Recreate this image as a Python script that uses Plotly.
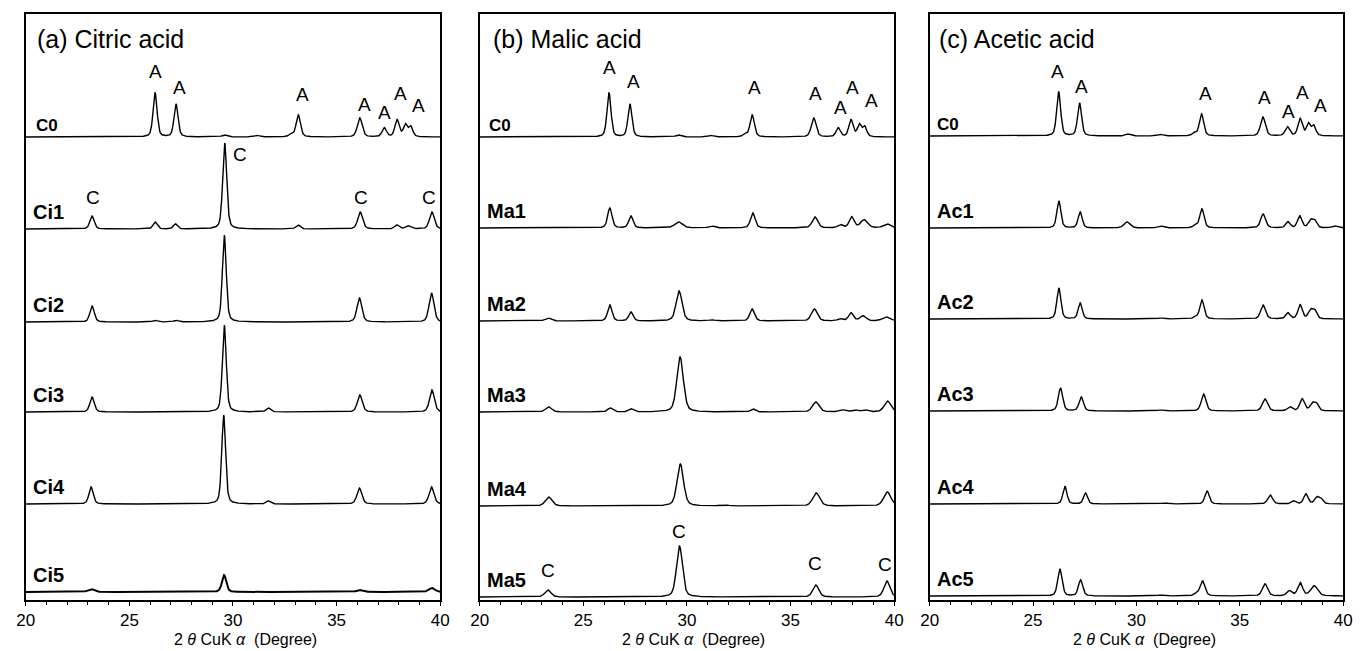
import numpy as np
import plotly.graph_objects as go

# ---------------- data ----------------
# 2-theta grid (degrees)
two_theta = np.linspace(20, 40, 1201)

# Peak lists: position (deg), height (a.u.), FWHM (deg)
C0_pos = [26.24, 27.25, 29.6, 31.15, 32.8, 33.15, 36.12, 37.3, 37.92, 38.32, 38.58]
C0_h   = [44, 33, 2, 1.5, 3, 22, 19, 9, 17, 12, 10]
C0_w   = [0.23, 0.23, 0.3, 0.3, 0.22, 0.25, 0.28, 0.25, 0.25, 0.23, 0.23]

Ci1_pos = [23.2, 26.24, 27.22, 29.6, 33.14, 36.14, 37.9, 38.45, 39.6]
Ci1_h   = [13, 7, 5, 86, 4, 17, 4, 3, 17]
Ci1_w   = [0.25, 0.23, 0.23, 0.23, 0.25, 0.28, 0.25, 0.3, 0.28]
Ci2_pos = [23.2, 26.24, 27.25, 29.58, 36.1, 39.58]
Ci2_h   = [16, 1.5, 1.5, 87, 24, 29]
Ci2_w   = [0.25, 0.28, 0.28, 0.22, 0.28, 0.28]
Ci3_pos = [23.2, 29.58, 31.7, 36.12, 39.6]
Ci3_h   = [15, 87, 4, 17, 22]
Ci3_w   = [0.25, 0.22, 0.25, 0.28, 0.28]
Ci4_pos = [23.15, 29.55, 31.7, 36.1, 39.58]
Ci4_h   = [17, 89, 3, 16, 17]
Ci4_w   = [0.25, 0.22, 0.25, 0.28, 0.28]
Ci5_pos = [23.15, 29.57, 36.1, 39.6]
Ci5_h   = [3, 17, 2, 4]
Ci5_w   = [0.35, 0.25, 0.35, 0.35]

Ma1_pos = [26.28, 27.3, 29.6, 31.2, 33.18, 36.18, 37.4, 37.95, 38.55, 39.65]
Ma1_h   = [20, 12, 6, 2, 15, 11, 3, 11, 8, 4]
Ma1_w   = [0.25, 0.25, 0.45, 0.35, 0.27, 0.32, 0.28, 0.28, 0.4, 0.4]
Ma2_pos = [23.3, 26.28, 27.3, 29.62, 31.2, 33.15, 36.15, 37.4, 37.92, 38.5, 39.62]
Ma2_h   = [3, 16, 9, 30, 1, 12, 12, 2, 8, 5, 4]
Ma2_w   = [0.35, 0.25, 0.25, 0.34, 0.35, 0.27, 0.34, 0.28, 0.28, 0.35, 0.45]
Ma3_pos = [23.33, 26.3, 27.3, 29.67, 33.18, 36.22, 37.5, 38.1, 38.6, 39.68]
Ma3_h   = [5, 4, 3, 55, 3, 10, 2, 2, 2, 11]
Ma3_w   = [0.35, 0.28, 0.28, 0.37, 0.28, 0.38, 0.35, 0.35, 0.35, 0.38]
Ma4_pos = [23.33, 29.68, 31.8, 36.24, 39.67]
Ma4_h   = [9, 42, 1, 13, 14]
Ma4_w   = [0.38, 0.37, 0.45, 0.4, 0.42]
Ma5_pos = [23.29, 29.64, 36.22, 39.65]
Ma5_h   = [7, 51, 12, 16]
Ma5_w   = [0.35, 0.34, 0.34, 0.34]

Ac1_pos = [26.25, 27.28, 29.55, 31.17, 32.85, 33.17, 36.13, 37.33, 37.9, 38.42, 38.62, 39.6]
Ac1_h   = [27, 16, 6, 2, 3, 19, 14, 6, 12, 7, 7, 2]
Ac1_w   = [0.23, 0.23, 0.35, 0.35, 0.22, 0.25, 0.28, 0.25, 0.25, 0.25, 0.25, 0.35]
Ac2_pos = [26.25, 27.28, 31.2, 32.85, 33.17, 36.13, 37.33, 37.92, 38.42, 38.62]
Ac2_h   = [31, 16, 1, 2, 19, 14, 6, 14, 8, 8]
Ac2_w   = [0.23, 0.23, 0.35, 0.22, 0.25, 0.28, 0.25, 0.25, 0.25, 0.25]
Ac3_pos = [26.33, 27.33, 31.2, 33.25, 36.22, 37.42, 38.02, 38.5, 38.7]
Ac3_h   = [23, 14, 1, 17, 12, 4, 12, 7, 7]
Ac3_w   = [0.25, 0.25, 0.35, 0.27, 0.3, 0.27, 0.27, 0.25, 0.25]
Ac4_pos = [26.54, 27.54, 31.4, 33.42, 36.47, 37.6, 38.2, 38.72, 38.92]
Ac4_h   = [18, 11, 1, 13, 9, 3, 10, 6, 5]
Ac4_w   = [0.23, 0.23, 0.35, 0.25, 0.28, 0.25, 0.25, 0.25, 0.25]
Ac5_pos = [26.3, 27.3, 31.2, 32.9, 33.2, 36.22, 37.4, 37.92, 38.6]
Ac5_h   = [27, 16, 1, 2, 15, 12, 5, 13, 10]
Ac5_w   = [0.25, 0.25, 0.35, 0.28, 0.28, 0.3, 0.28, 0.28, 0.4]

# sample names and vertical offsets for each panel
citric_names = ["C0", "Ci1", "Ci2", "Ci3", "Ci4", "Ci5"]
citric_offsets = [463, 371, 278, 188, 96, 8]
malic_names = ["C0", "Ma1", "Ma2", "Ma3", "Ma4", "Ma5"]
malic_offsets = [463, 372, 279, 188, 94, 3]
acetic_names = ["C0", "Ac1", "Ac2", "Ac3", "Ac4", "Ac5"]
acetic_offsets = [464, 372, 281, 189, 96, 4]

panel_titles = ["(a) Citric acid", "(b) Malic acid", "(c) Acetic acid"]
tick_values = [20, 25, 30, 35, 40]
x_title = "2 <i>θ</i> CuK <i>α</i>  (Degree)"

# peak phase labels: (text, 2theta, height)
citric_marks_txt = ["A", "A", "A", "A", "A", "A", "A", "C", "C", "C", "C"]
citric_marks_x = [26.24, 27.43, 33.33, 36.33, 37.33, 38.1, 38.95, 23.24, 30.33, 36.19, 39.48]
citric_marks_y = [528, 512, 505, 495, 487, 506, 494, 403, 446, 403, 403]
malic_marks_txt = ["A", "A", "A", "A", "A", "A", "A", "C", "C", "C", "C"]
malic_marks_x = [26.24, 27.43, 33.24, 36.19, 37.43, 38.0, 38.9, 23.29, 29.62, 36.19, 39.57]
malic_marks_y = [532, 518, 512, 506, 492, 512, 499, 30, 69, 37, 36]
acetic_marks_txt = ["A", "A", "A", "A", "A", "A", "A"]
acetic_marks_x = [26.2, 27.35, 33.32, 36.18, 37.37, 38.04, 38.9]
acetic_marks_y = [528, 513, 506, 502, 488, 507, 494]

peaks = {
    "C0": (C0_pos, C0_h, C0_w),
    "Ci1": (Ci1_pos, Ci1_h, Ci1_w), "Ci2": (Ci2_pos, Ci2_h, Ci2_w),
    "Ci3": (Ci3_pos, Ci3_h, Ci3_w), "Ci4": (Ci4_pos, Ci4_h, Ci4_w),
    "Ci5": (Ci5_pos, Ci5_h, Ci5_w),
    "Ma1": (Ma1_pos, Ma1_h, Ma1_w), "Ma2": (Ma2_pos, Ma2_h, Ma2_w),
    "Ma3": (Ma3_pos, Ma3_h, Ma3_w), "Ma4": (Ma4_pos, Ma4_h, Ma4_w),
    "Ma5": (Ma5_pos, Ma5_h, Ma5_w),
    "Ac1": (Ac1_pos, Ac1_h, Ac1_w), "Ac2": (Ac2_pos, Ac2_h, Ac2_w),
    "Ac3": (Ac3_pos, Ac3_h, Ac3_w), "Ac4": (Ac4_pos, Ac4_h, Ac4_w),
    "Ac5": (Ac5_pos, Ac5_h, Ac5_w),
}


def pattern(name):
    pos, h, w = peaks[name]
    y = np.zeros_like(two_theta)
    eta = 0.4
    for p, hh, ww in zip(pos, h, w):
        d = (two_theta - p) / ww
        g = np.exp(-4 * np.log(2) * d * d)
        l = 1.0 / (1.0 + 4 * d * d)
        y += hh * (eta * l + (1 - eta) * g)
    return y


# ---------------- figure ----------------
W, H = 1362, 651
fig = go.Figure()

x_domains = [[17 / W, 437 / W], [477 / W, 897 / W], [933 / W, 1352 / W]]
y_domain = [51 / H, 637 / H]
panels = [
    (citric_names, citric_offsets, citric_marks_txt, citric_marks_x, citric_marks_y),
    (malic_names, malic_offsets, malic_marks_txt, malic_marks_x, malic_marks_y),
    (acetic_names, acetic_offsets, acetic_marks_txt, acetic_marks_x, acetic_marks_y),
]
title_x = [20.45, 20.55, 20.36]
label_x0 = [20.38, 20.33, 20.24]
label_x = [20.24, 20.24, 20.24]
xtitle_center_px = [240, 694, 1151]

annotations = []
for i, (names, offs, mt, mx, my) in enumerate(panels):
    xa = "x" if i == 0 else f"x{i+1}"
    ya = "y" if i == 0 else f"y{i+1}"
    for n, off in zip(names, offs):
        fig.add_trace(go.Scatter(
            x=two_theta, y=pattern(n) + off, mode="lines",
            line=dict(color="black", width=2.0 if n == "Ci5" else 1.4),
            xaxis=xa, yaxis=ya, showlegend=False, hoverinfo="skip"))
        is_c0 = n == "C0"
        annotations.append(dict(
            x=label_x0[i] if is_c0 else label_x[i], y=off + (11 if is_c0 else 17),
            xref=xa, yref=ya, text=f"<b>{n}</b>", showarrow=False,
            xanchor="left", yanchor="middle",
            font=dict(family="Liberation Sans", size=17 if is_c0 else 20, color="black")))
    for t, px, py in zip(mt, mx, my):
        annotations.append(dict(
            x=px, y=py, xref=xa, yref=ya, text=t, showarrow=False,
            xanchor="center", yanchor="middle",
            font=dict(family="Liberation Sans", size=19, color="black")))
    annotations.append(dict(
        x=title_x[i], y=561, xref=xa, yref=ya, text=panel_titles[i], showarrow=False,
        xanchor="left", yanchor="middle",
        font=dict(family="Liberation Sans", size=25, color="black")))
    annotations.append(dict(
        x=xtitle_center_px[i] / W, y=2 / H, xref="paper", yref="paper",
        text=x_title, showarrow=False, borderpad=0,
        xanchor="center", yanchor="bottom",
        font=dict(family="Liberation Sans", size=16, color="black")))

axis_common = dict(showline=True, mirror=True, linecolor="black", linewidth=1.6,
                   showgrid=False, zeroline=False)
layout = dict(width=W, height=H, margin=dict(l=0, r=0, t=0, b=0),
              plot_bgcolor="white", paper_bgcolor="white", annotations=annotations)
for i in range(3):
    xk = "xaxis" if i == 0 else f"xaxis{i+1}"
    yk = "yaxis" if i == 0 else f"yaxis{i+1}"
    ya = "y" if i == 0 else f"y{i+1}"
    xa = "x" if i == 0 else f"x{i+1}"
    layout[xk] = dict(domain=x_domains[i], range=[20, 40], anchor=ya,
                      tickvals=tick_values, ticks="outside", ticklen=4,
                      tickcolor="black", tickwidth=1.3,
                      minor=dict(dtick=1, ticks="outside", ticklen=3, tickcolor="black"),
                      tickfont=dict(family="Liberation Sans", size=17, color="black"),
                      **axis_common)
    layout[yk] = dict(domain=y_domain, range=[0, 586], anchor=xa,
                      showticklabels=False, ticks="", **axis_common)
fig.update_layout(**layout)

fig.write_html("out.html")
